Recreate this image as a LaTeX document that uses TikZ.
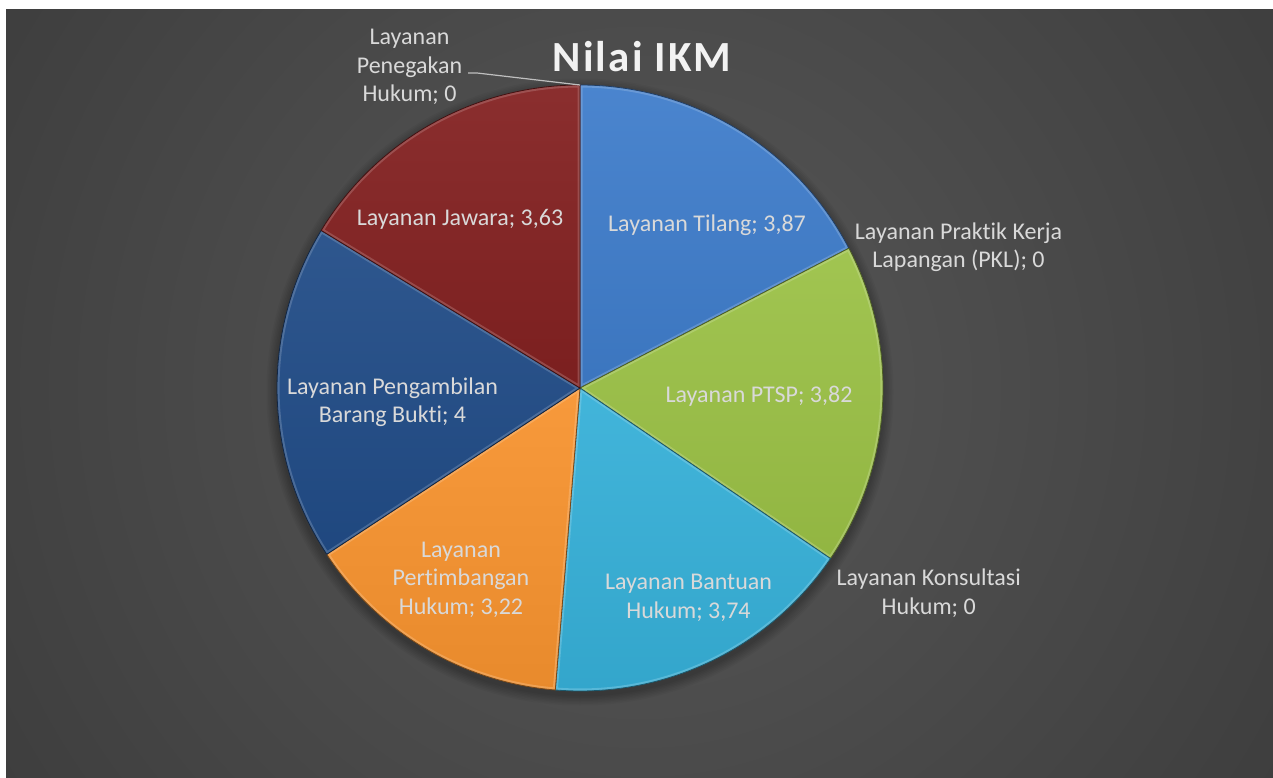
\documentclass[tikz,border=0pt]{standalone}
\usepackage{fontspec}
\setmainfont{Carlito}[Ligatures=NoCommon]
\newfontfamily\titlefont[LetterSpace=5,Ligatures=NoCommon]{Carlito}
\usetikzlibrary{calc}
\definecolor{bgin}{HTML}{585858}
\definecolor{bgout}{HTML}{242424}
\definecolor{ctilang}{HTML}{3F7DCB}
\definecolor{cptsp}{HTML}{9BC146}
\definecolor{cbantuan}{HTML}{36B0D8}
\definecolor{cpertim}{HTML}{F7932F}
\definecolor{cbarang}{HTML}{214C87}
\definecolor{cjawara}{HTML}{832121}
\definecolor{lblcol}{HTML}{D9D9D9}
\definecolor{leadcol}{HTML}{BFBFBF}
\newcommand\myslice[3]{%
  \path[top color=#3!94!white, bottom color=#3!94!black]
    (C) -- ++(#1:303) arc[start angle=#1, end angle=#2, radius=303] -- cycle;
  \begin{scope}
    \clip (C) -- ++(#1:303) arc[start angle=#1, end angle=#2, radius=303] -- cycle;
    \draw[#3!55!white, line width=5pt, opacity=0.4]
      (C) -- ++(#1:303) arc[start angle=#1, end angle=#2, radius=303] -- cycle;
  \end{scope}
  \draw[#3!50!black, line width=0.8pt, line join=round]
    (C) -- ++(#1:303) arc[start angle=#1, end angle=#2, radius=303] -- cycle;
}
\begin{document}
\begin{tikzpicture}[x=1pt,y=1pt,
  lbl/.style={text=lblcol, font=\fontsize{24}{28.5}\selectfont, align=center, inner sep=0pt, anchor=base},
  ttl/.style={text=white!95!black, font=\titlefont\bfseries\fontsize{43}{50}\selectfont, inner sep=0pt, anchor=base},
  leader/.style={draw=leadcol, line width=1.2pt}]
\useasboundingbox (0,0) rectangle (1273,777);
% background
\begin{scope}
  \clip (6,0) rectangle (1273,767);
  \shade[inner color=bgin, outer color=bgout] (640,390) circle (1500);
\end{scope}
\coordinate (C) at (580,389);
% soft shadow
\foreach \i in {1,...,7} {
  \fill[black, opacity=0.035] (580,385) circle ({303+\i*1.5});
}
% slices
\myslice{90}{27.47}{ctilang}
\myslice{27.47}{-34.25}{cptsp}
\myslice{-34.25}{-94.68}{cbantuan}
\myslice{-94.68}{-146.71}{cpertim}
\myslice{-146.71}{-211.34}{cbarang}
\myslice{148.66}{90}{cjawara}
% title
\node[ttl] (title) at (642,705) {Nilai IKM};
% labels (base = baseline of last line)
\node[lbl] (pen) at (409.5,675) {Layanan\\Penegakan\\Hukum; 0};
\node[lbl] (tilang) at (707,545) {Layanan Tilang; 3,87};
\node[lbl] (jawara) at (460,551) {Layanan Jawara; 3,63};
\node[lbl] (pkl) at (958.5,509) {Layanan Praktik Kerja\\Lapangan (PKL); 0};
\node[lbl] (ptsp) at (759,374) {Layanan PTSP; 3,82};
\node[lbl] (barang) at (392.5,354) {Layanan Pengambilan\\Barang Bukti; 4};
\node[lbl] (bantuan) at (688.5,159) {Layanan Bantuan\\Hukum; 3,74};
\node[lbl] (konsul) at (928.7,163) {Layanan Konsultasi\\Hukum; 0};
\node[lbl] (pertim) at (461,163) {Layanan\\Pertimbangan\\Hukum; 3,22};
% leader line
\coordinate (penA) at (468,704);
\coordinate (penB) at (477,704);
\coordinate (pietop) at (580,692);
\draw[leader] (penA) -- (penB) -- (pietop);
\end{tikzpicture}
\end{document}
